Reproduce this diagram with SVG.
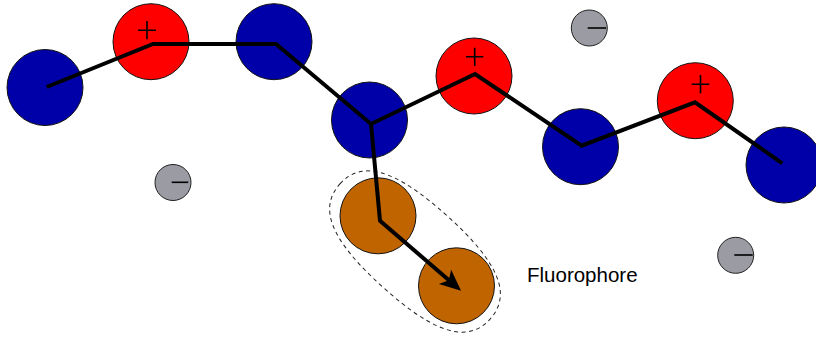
<svg xmlns="http://www.w3.org/2000/svg" width="816" height="337" viewBox="0 0 816 337">
<style>
.blue{fill:#0000a8;stroke:#111;stroke-width:1}
.red{fill:#ff0000;stroke:#111;stroke-width:1}
.orange{fill:#c06400;stroke:#111;stroke-width:1}
.ion{fill:#9b9ba3;stroke:#222;stroke-width:1}
.sign{stroke:#000;stroke-width:1.6;fill:none}
.bond{fill:none;stroke:#000;stroke-width:4;stroke-linejoin:miter}
.label{font-family:"Liberation Sans",Arial,sans-serif;font-size:20.5px;fill:#000}
</style>
<defs>
<marker id="head" markerUnits="userSpaceOnUse" markerWidth="30" markerHeight="30" viewBox="-2 -10 24 20" refX="6" refY="0" orient="auto" overflow="visible">
<path d="M0,-7.5 L17,0 L0,7.5 L4,0 Z" fill="#000"/>
</marker>
</defs>
<rect width="816" height="337" fill="#fff"/>
<g id="fluorophore-boundary">
<path d="M-101,0 C-101,-32 -72,-48 0,-48 C72,-48 101,-32 101,0 C101,32 72,48 0,48 C-72,48 -101,32 -101,0 Z" transform="translate(415,251.5) rotate(42)" fill="none" stroke="#222" stroke-width="1" stroke-dasharray="4,3.5"/>
</g>
<g id="blue1"><circle class="blue" cx="45" cy="87.5" r="38"/></g>
<g id="red1"><circle class="red" cx="151" cy="41.7" r="38"/><path class="sign" d="M138,30.2 H156 M147,21 V39.3"/></g>
<g id="blue2"><circle class="blue" cx="274" cy="41.7" r="38"/></g>
<g id="blue3"><circle class="blue" cx="369.5" cy="120" r="38"/></g>
<g id="red2"><circle class="red" cx="474" cy="76" r="38"/><path class="sign" d="M466,56.8 H483.3 M474.7,47.7 V66"/></g>
<g id="blue4"><circle class="blue" cx="580.5" cy="146.7" r="38"/></g>
<g id="red3"><circle class="red" cx="695.3" cy="100.7" r="38"/><path class="sign" d="M691.7,84.2 H709.3 M700.5,75 V93.3"/></g>
<g id="blue5"><circle class="blue" cx="784" cy="165" r="38"/></g>
<g id="orange1"><circle class="orange" cx="378" cy="215.8" r="38"/></g>
<g id="orange2"><circle class="orange" cx="456.5" cy="285.8" r="38"/></g>
<g id="ion1"><circle class="ion" cx="589.3" cy="28" r="18"/><path class="sign" d="M587.7,28 H606"/></g>
<g id="ion2"><circle class="ion" cx="173" cy="182.5" r="18"/><path class="sign" d="M171.7,182.3 H188.3"/></g>
<g id="ion3"><circle class="ion" cx="735.7" cy="255.3" r="18"/><path class="sign" d="M734.3,255 H752.7"/></g>
<g id="connectors">
<polyline class="bond" points="46.7,87 153,44 276,44 371,124 475,74 581.7,145.7 695,102.3 782.3,163.3"/>
<polyline class="bond" points="371,124 380,220.7 450.7,281.8" marker-end="url(#head)"/>
</g>
<g id="label"><text class="label" x="527" y="282">Fluorophore</text></g>
</svg>
